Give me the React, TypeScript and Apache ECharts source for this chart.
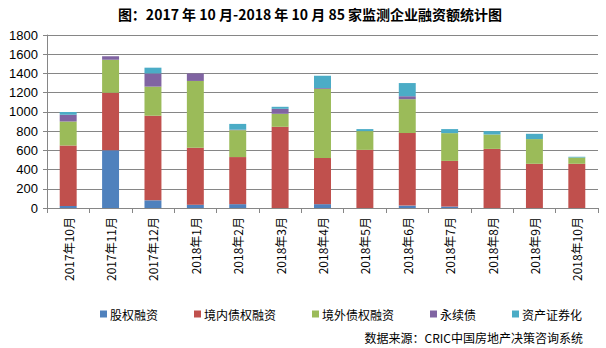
import React, { useEffect, useRef } from "react";
import * as echarts from "echarts";

const categories = [
  "2017年10月", "2017年11月", "2017年12月", "2018年1月", "2018年2月", "2018年3月",
  "2018年4月", "2018年5月", "2018年6月", "2018年7月", "2018年8月", "2018年9月", "2018年10月",
];
const equity = [20, 600, 80, 35, 40, 0, 40, 0, 25, 15, 0, 0, 0];
const domesticDebt = [630, 600, 880, 591, 490, 845, 480, 605, 755, 475, 615, 460, 460];
const overseasDebt = [250, 343, 303, 696, 280, 135, 720, 195, 352, 289, 150, 257, 65];
const perpetual = [70, 37, 137, 78, 5, 52, 8, 0, 31, 0, 0, 0, 0];
const abs = [30, 0, 60, 0, 60, 21, 128, 21, 137, 42, 35, 55, 8];

const seriesNames = ["股权融资", "境内债权融资", "境外债权融资", "永续债", "资产证券化"];
const seriesData = [equity, domesticDebt, overseasDebt, perpetual, abs];
const colors = ["#4F81BD", "#C0504D", "#9BBB59", "#8064A2", "#4BACC6"];

const titleText = "图：2017 年 10 月-2018 年 10 月 85 家监测企业融资额统计图";
const sourceText = "数据来源：CRIC中国房地产决策咨询系统";

const FONT = "'Noto Sans CJK SC', 'Noto Sans', sans-serif";

export default function App() {
  const ref = useRef<HTMLDivElement>(null);
  useEffect(() => {
    document.body.style.margin = "0";
    const chart = echarts.init(ref.current!, null, { renderer: "svg" });
    chart.setOption({
      animation: false,
      backgroundColor: "#ffffff",
      textStyle: { fontFamily: FONT },
      graphic: [
        {
          type: "text",
          x: 310,
          y: 14,
          style: {
            text: titleText,
            fill: "#000",
            font: `bold 14px ${FONT}`,
            textAlign: "center",
            textVerticalAlign: "middle",
          },
        },
        {
          type: "text",
          x: 583,
          y: 337,
          style: {
            text: sourceText,
            fill: "#000",
            font: `12px ${FONT}`,
            textAlign: "right",
            textVerticalAlign: "middle",
          },
        },
      ],
      legend: {
        left: 95,
        top: 303,
        icon: "rect",
        itemWidth: 7,
        itemHeight: 7,
        itemGap: 36,
        textStyle: { fontSize: 12, color: "#000", fontFamily: FONT, padding: [0, 0, 0, -2] },
        data: seriesNames,
      },
      grid: { left: 47, right: 8, top: 35, bottom: 140, containLabel: false },
      xAxis: {
        type: "category",
        data: categories,
        axisLine: { lineStyle: { color: "#868686" } },
        axisTick: { show: true, length: 5, lineStyle: { color: "#868686" } },
        axisLabel: { rotate: 90, margin: 9, fontSize: 12, color: "#000", fontFamily: FONT, interval: 0 },
      },
      yAxis: {
        type: "value",
        min: 0,
        max: 1800,
        interval: 200,
        axisLine: { show: true, lineStyle: { color: "#868686" } },
        axisTick: { show: true, length: 4, lineStyle: { color: "#868686" } },
        axisLabel: {
          fontSize: 13,
          color: "#000",
          margin: 9,
          fontFamily: "Arial, 'Liberation Sans', sans-serif",
          formatter: (v: number) => String(v),
        },
        splitLine: { lineStyle: { color: "#868686", width: 1 } },
      },
      series: seriesNames.map((name, i) => ({
        name,
        type: "bar",
        stack: "total",
        data: seriesData[i],
        barCategoryGap: "60%",
        itemStyle: { color: colors[i] },
      })),
    });
    return () => chart.dispose();
  }, []);
  return (
    <div
      ref={ref}
      style={{ width: 606, height: 348, position: "absolute", left: 0, top: 0 }}
    />
  );
}
